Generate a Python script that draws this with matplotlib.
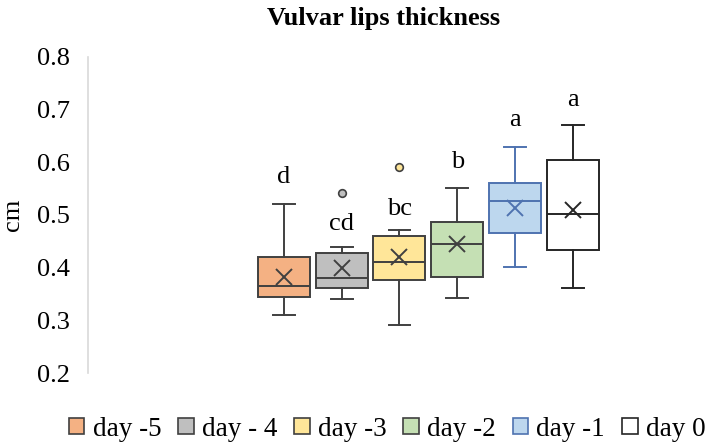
import matplotlib
matplotlib.use("Agg")
from matplotlib import pyplot as plt
from matplotlib.patches import Patch

plt.rcParams['font.family'] = ['Liberation Serif', 'DejaVu Serif']

labels = ['day -5', 'day - 4', 'day -3', 'day -2', 'day -1', 'day 0']
whislo = [0.311, 0.341, 0.291, 0.342, 0.401, 0.361]
q1 = [0.344, 0.361, 0.377, 0.383, 0.466, 0.433]
med = [0.366, 0.380, 0.411, 0.445, 0.526, 0.501]
q3 = [0.420, 0.428, 0.461, 0.486, 0.561, 0.604]
whishi = [0.520, 0.440, 0.471, 0.551, 0.630, 0.671]
means = [0.383, 0.400, 0.421, 0.444, 0.513, 0.510]
outliers = [[], [0.541], [0.591], [], [], []]
letters = ['d', 'cd', 'bc', 'b', 'a', 'a']
letter_y = [0.572, 0.483, 0.511, 0.600, 0.680, 0.719]

fills = ['#F4B183', '#BFBFBF', '#FFE699', '#C5E0B4', '#BDD7EE', '#FFFFFF']
edges = ['#404040', '#404040', '#404040', '#404040', '#4F73B0', '#262626']

fig = plt.figure(figsize=(7.14, 4.46), dpi=100)
ax = fig.add_axes([88 / 714, 73 / 446, 612 / 714, 316 / 446])

for i in range(len(labels)):
    stats = [dict(whislo=whislo[i], q1=q1[i], med=med[i], q3=q3[i],
                  whishi=whishi[i], mean=means[i], fliers=outliers[i])]
    ec = edges[i]
    ax.bxp(stats, positions=[i + 1], widths=0.9, patch_artist=True,
           showmeans=True, showfliers=True,
           boxprops=dict(facecolor=fills[i], edgecolor=ec, linewidth=1.4),
           medianprops=dict(color=ec, linewidth=1.4),
           whiskerprops=dict(color=ec, linewidth=1.4),
           capprops=dict(color=ec, linewidth=1.4),
           capwidths=0.38,
           meanprops=dict(marker='x', markeredgecolor=ec, markersize=11,
                          markeredgewidth=1.4),
           flierprops=dict(marker='o', markerfacecolor=fills[i],
                           markeredgecolor=ec, markersize=5.5,
                           markeredgewidth=1.2))
    ax.text(i + 1, letter_y[i], letters[i], ha='center', va='center',
            fontsize=19)

ax.set_xlim(-2.39, 8.2)
ax.set_ylim(0.2, 0.8)
ax.set_yticks([0.2, 0.3, 0.4, 0.5, 0.6, 0.7, 0.8])
ax.set_yticklabels(['0.2', '0.3', '0.4', '0.5', '0.6', '0.7', '0.8'])
ax.set_xticks([])
ax.tick_params(axis='y', length=0, labelsize=19, pad=13)
for s in ['top', 'right', 'bottom']:
    ax.spines[s].set_visible(False)
ax.spines['left'].set_color('#D9D9D9')
ax.spines['left'].set_linewidth(1.2)
ax.set_ylabel('cm', fontsize=19, labelpad=9)

fig.text(384 / 714, 1 - 19 / 446, 'Vulvar lips thickness', ha='center',
         va='center', fontsize=19, fontweight='bold')

handles = [Patch(facecolor=fills[i], edgecolor=edges[i], linewidth=1.2)
           for i in range(len(labels))]
fig.legend(handles, labels, loc='center', bbox_to_anchor=(387 / 714, 1 - 429 / 446),
           ncol=6, frameon=False, fontsize=19.5, handlelength=0.58,
           handleheight=0.58, handletextpad=0.3, columnspacing=0.62,
           borderpad=0)

fig.savefig('out.png', dpi=100)
